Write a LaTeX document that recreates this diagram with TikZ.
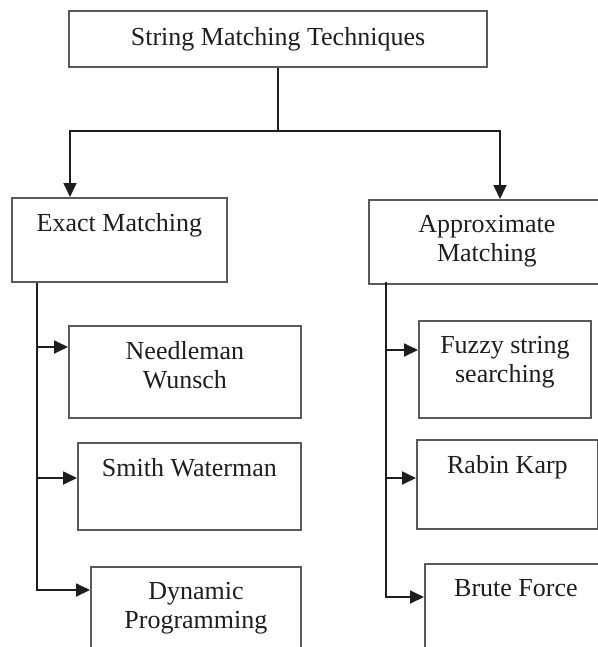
\documentclass[tikz,border=0pt]{standalone}
\usepackage{fontspec}
\setmainfont{Liberation Serif}
\usetikzlibrary{arrows.meta,calc,positioning}
\definecolor{smtBox}{HTML}{5A5A5A}
\definecolor{smtInk}{HTML}{1E1E1E}

\begin{document}
\begin{tikzpicture}[x=0.5pt,y=-0.5pt,
    every node/.style={font=\fontsize{13}{14.5}\selectfont, text=smtInk},
    box/.style={draw=smtBox, line width=0.9pt, inner sep=0pt, anchor=north west},
    lbl/.style={inner sep=0pt, align=center},
    link/.style={draw=smtInk, line width=0.9pt},
    arr/.style={link, -{Triangle[length=7pt,width=6.5pt]}}]
  \clip (0,0) rectangle (598,647);
  \useasboundingbox (0,0) rectangle (598,647);
  % root
  \node[draw=smtBox, line width=0.9pt, inner sep=0pt, minimum width=209pt, minimum height=28pt] (smt) at (278,39) {String Matching Techniques};
  % second level
  \node[box, minimum width=107.5pt, minimum height=42pt] (exact) at (11,197) {};
  \node[lbl, below=8pt of exact.north] (exactlbl) {Exact Matching};
  \node[box, minimum width=118pt, minimum height=42pt] (approx) at (368,199) {};
  \node[lbl, below=8pt of approx.north] (approxlbl) {Approximate\\Matching};
  % exact matching leaves
  \node[box, minimum width=116pt, minimum height=46pt] (needle) at (68,325) {};
  \node[lbl, below=8pt of needle.north] (needlelbl) {Needleman\\Wunsch};
  \node[box, minimum width=111.5pt, minimum height=43.5pt] (smith) at (77,442) {};
  \node[lbl, below=8pt of smith.north] (smithlbl) {Smith Waterman};
  \node[box, minimum width=105pt, minimum height=60pt] (dynprog) at (90,566) {};
  \node[lbl, below=8pt of dynprog.north] (dynproglbl) {Dynamic\\Programming};
  % approximate matching leaves
  \node[box, minimum width=86pt, minimum height=48.5pt] (fuzzy) at (418,320) {};
  \node[lbl, below=8pt of fuzzy.north] (fuzzylbl) {Fuzzy string\\searching};
  \node[box, minimum width=90.5pt, minimum height=44.5pt] (rabin) at (416,439) {};
  \node[lbl, below=8pt of rabin.north] (rabinlbl) {Rabin Karp};
  \node[box, minimum width=91pt, minimum height=60pt] (brute) at (424,563) {};
  \node[lbl, below=8pt of brute.north] (brutelbl) {Brute Force};
  % connectors
  \draw[link] (smt.south) -- ++(0,63) coordinate (fork);
  \draw[arr] (fork) -| ($(exact.north west)+(59,0)$);
  \draw[arr] (fork) -| ($(approx.north west)+(132,0)$);
  \coordinate (ltrunk) at ($(exact.south west)+(26,0)$);
  \draw[arr] (ltrunk) |- ($(needle.north west)+(0,22)$);
  \draw[arr] (ltrunk) |- ($(smith.north west)+(0,36)$);
  \draw[arr] (ltrunk) |- ($(dynprog.north west)+(0,24)$);
  \coordinate (rtrunk) at ($(approx.south west)+(18,-3)$);
  \draw[arr] (rtrunk) |- ($(fuzzy.north west)+(0,30)$);
  \draw[arr] (rtrunk) |- ($(rabin.north west)+(0,39)$);
  \draw[arr] (rtrunk) |- ($(brute.north west)+(0,34)$);
\end{tikzpicture}
\end{document}
